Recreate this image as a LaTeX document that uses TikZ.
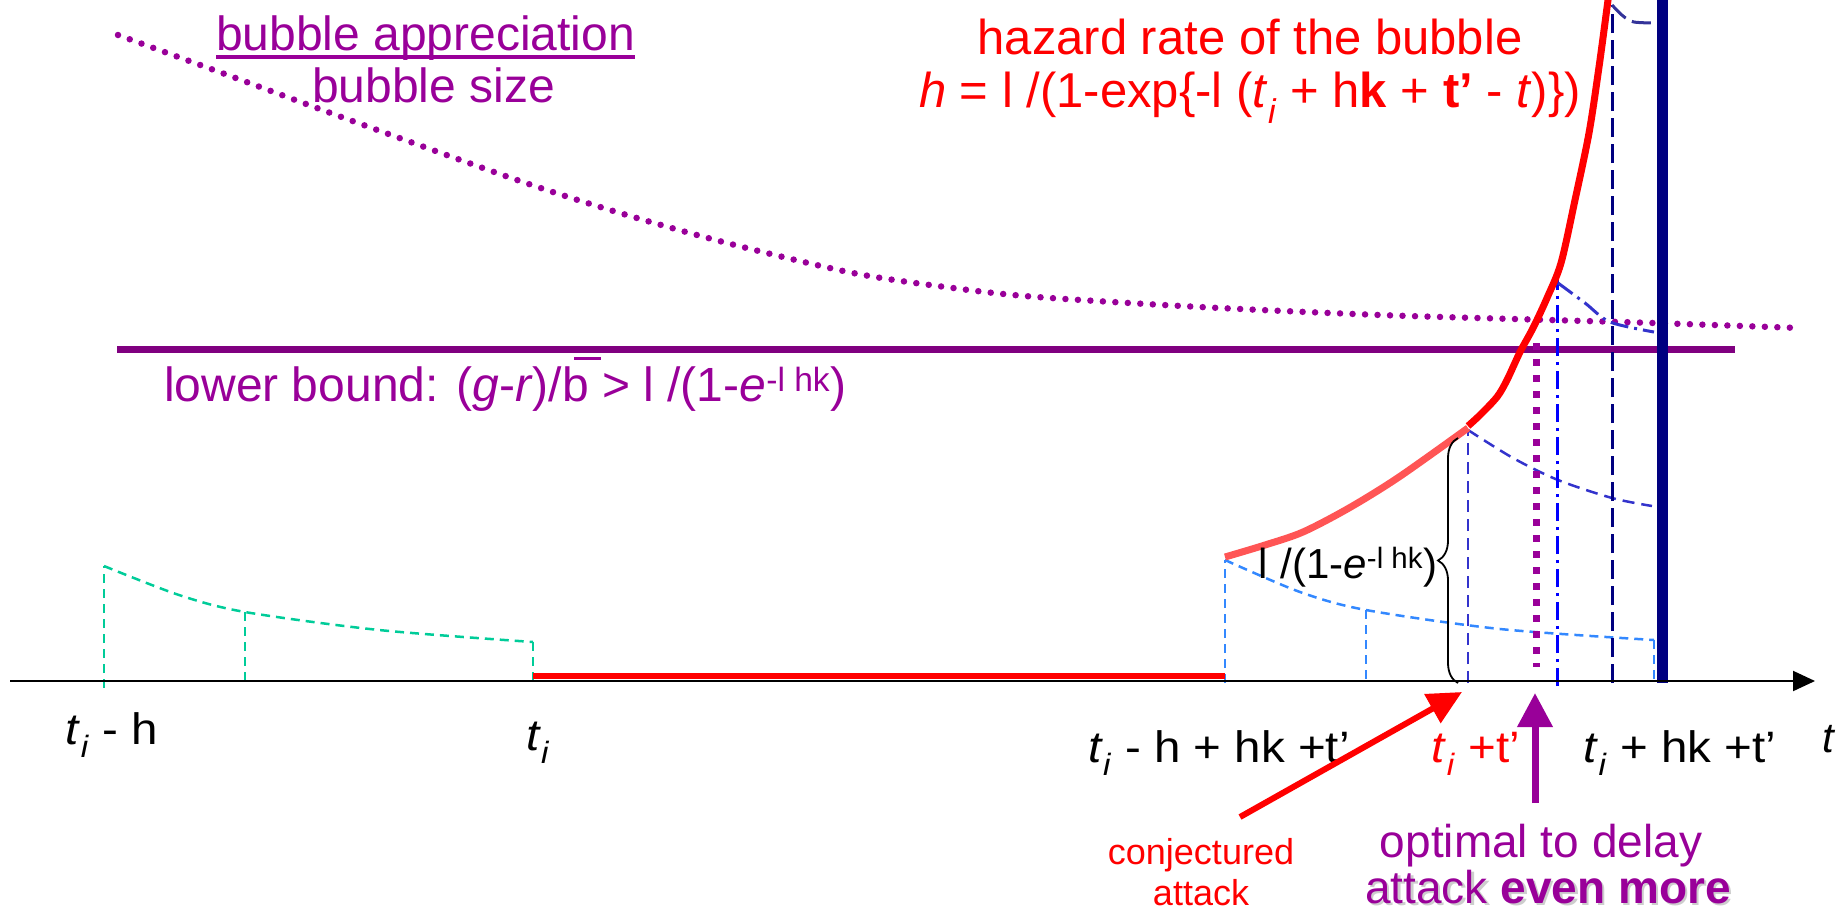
\documentclass[tikz,border=0pt]{standalone}
\usepackage{fontspec}
\usepackage{graphicx}
\setmainfont{Liberation Sans}
\usetikzlibrary{arrows.meta,decorations.pathreplacing,calc}
\definecolor{purp}{RGB}{153,0,153}
\definecolor{dpurp}{RGB}{128,0,128}
\definecolor{navy}{RGB}{0,0,128}
\definecolor{cnavy}{RGB}{51,51,153}
\definecolor{mblue}{RGB}{51,51,204}
\definecolor{lblue}{RGB}{51,136,255}
\definecolor{pblue}{RGB}{0,0,255}
\definecolor{mint}{RGB}{0,204,153}
\definecolor{salmon}{RGB}{255,85,85}
\definecolor{shadowgray}{RGB}{205,205,205}
\newcommand{\fs}[1]{\fontsize{#1}{#1}\selectfont}
\newcommand{\lab}[1]{\scalebox{1.08}[1]{\fs{44}#1}}
\newcommand{\bbar}{\rlap{\hspace{0.25em}\rule[0.85em]{0.56em}{0.07em}}b}
\newcommand{\ti}{\textit{t}\textsubscript{\textit{i}}}
\begin{document}
\begin{tikzpicture}[x=1pt,y=-1pt,
  txt/.style={inner sep=0pt,outer sep=0pt},
  gdash/.style={line width=2.5pt,dash pattern=on 9pt off 6pt},
  mdash/.style={line width=2.5pt,dash pattern=on 12pt off 7pt},
  ndash/.style={line width=3pt,dash pattern=on 19pt off 7pt},
  ddot/.style={line width=3pt,dash pattern=on 18pt off 6pt on 3pt off 6pt},
  bubdots/.style={purp,line width=6.5pt,line cap=round,dash pattern=on 0pt off 12.5pt},
  redarrow/.style={red,line width=6pt,-{Triangle[length=34pt,width=32pt]}},
  purarrow/.style={purp,line width=7pt,-{Triangle[length=34pt,width=34pt]}}
]
\useasboundingbox (0,0) rectangle (1838,916);

% bubble appreciation / size curve
\draw[bubdots] plot[smooth] coordinates {(118,35) (233,77) (347,119) (517,180) (620,213) (727,243) (853,273) (953,288) (1037,297) (1200,307) (1380,315) (1550,320) (1654,323) (1800,328)};

% lower bound line
\draw[dpurp,line width=7pt] (117,349) -- (1735,349);

% green dashed (left)
\draw[mint,gdash] (104,688) -- (104,566);
\draw[mint,gdash] plot[smooth] coordinates {(104,566) (179,595) (245,612) (379,630) (533,642)};
\draw[mint,gdash] (245,612) -- (245,681);
\draw[mint,gdash] (533,642) -- (533,681);

% light blue dashed
\draw[lblue,gdash] (1225,683) -- (1225,560);
\draw[lblue,gdash] plot[smooth] coordinates {(1225,560) (1300,592) (1366,610) (1500,629) (1654,640)};
\draw[lblue,gdash] (1366,610) -- (1366,683);
\draw[lblue,gdash] (1654,640) -- (1654,683);

% dark blue dashed
\draw[mblue,mdash] (1468,683) -- (1468,430);
\draw[mblue,mdash] plot[smooth] coordinates {(1468,430) (1513,458) (1558,480) (1612,498) (1652,506)};

% dash-dot blue
\draw[pblue,ddot] (1557,686) -- (1557,270);
\draw[mblue,ddot] plot[smooth] coordinates {(1558,283) (1585,303) (1610,322) (1654,332)};

% navy dashed
\draw[navy,ndash] (1612,683) -- (1612,5);
\draw[cnavy,ndash] plot[smooth] coordinates {(1612,5) (1623,16) (1634,22) (1657,23)};

% red horizontal
\draw[red,line width=6pt] (533,676) -- (1225,676);

% hazard curves
\draw[salmon,line width=7pt] plot[smooth] coordinates {(1225,557) (1265,545) (1303,532) (1349,508) (1399,477) (1468,428)};
\draw[red,line width=7pt] plot[smooth] coordinates {(1468,426) (1480,415) (1497,397) (1507,380) (1520,352) (1533,328) (1547,298) (1561,263) (1575,200) (1589,133) (1599,67) (1608,0) (1609,-8)};

% purple dotted vertical
\draw[purp,line width=7pt,dash pattern=on 7pt off 9pt] (1536,343) -- (1536,667);

% navy thick vertical
\draw[navy,line width=11pt] (1662,-2) -- (1662,683);

% brace
\draw[line width=1.8pt,decorate,decoration={brace,amplitude=20pt}] (1458,683) -- (1458,438);

% axis
\coordinate (ax0) at (10,681);
\coordinate (ax1) at (1815,681);
\draw[line width=2pt,-{Triangle[length=22pt,width=20pt]}] (ax0) -- (ax1);

% texts
\node[txt,purp,anchor=base west] (ba) at (216,50) {\fs{48}bubble appreciation};
\draw[purp,line width=4pt] ($(ba.base west)+(0,7)$) -- ($(ba.base east)+(0,7)$);
\node[txt,purp,anchor=base west] (bs) at (312,102) {\fs{48}bubble size};

\node[txt,red,anchor=base] (h1) at (1250,54) {\fs{49}hazard rate of the bubble};
\node[txt,red,anchor=base] (h2) at (1250,107) {\fs{49}\textit{h} = l /(1-exp\{-l (\ti{} + h\textbf{k} + \textbf{t’} - \textit{t})\})};

\node[txt,purp,anchor=base west] (lb) at (164,401) {\fs{48}lower bound: (\textit{g}-\textit{r})/\bbar{} > l /(1-\textit{e}\textsuperscript{-l hk})};

\node[txt,anchor=base east] (bl) at (1437,578) {\fs{42}l\hspace{0.3em}/(1-\textit{e}\textsuperscript{-l hk})};

\node[txt,anchor=base] (l1) at (112,744) {\lab{\ti{} - h}};
\node[txt,anchor=base] (l2) at (538,750) {\lab{\ti}};
\node[txt,anchor=base] (l3) at (1219,762) {\lab{\ti{} - h + hk +t’}};
\node[txt,red,anchor=base] (l4) at (1476,762) {\lab{\ti{} +t’}};
\node[txt,anchor=base] (l5) at (1680,762) {\lab{\ti{} + hk +t’}};
\node[txt,anchor=base] (lt) at (1829,752) {\fs{42}\textit{t}};

\node[txt,red,anchor=base] (c1) at (1201,864) {\fs{36}conjectured};
\node[txt,red,anchor=base] (c2) at (1201,905) {\fs{36}attack};

\node[txt,purp,anchor=base] (o1) at (1541,857) {\fs{46}optimal to delay};
\node[txt,shadowgray,anchor=base] (o2s) at (1550.5,905.5) {\fs{46}attack \textbf{even more}};
\node[txt,purp,anchor=base] (o2) at (1548,903) {\fs{46}attack \textbf{even more}};

% arrows
\coordinate (ctail) at (1240,817);
\coordinate (ctip) at (1462,692);
\draw[redarrow] (ctail) -- (ctip);
\coordinate (ptail) at (1535,803);
\coordinate (ptip) at (1535,693);
\draw[purarrow] (ptail) -- (ptip);
\end{tikzpicture}
\end{document}
